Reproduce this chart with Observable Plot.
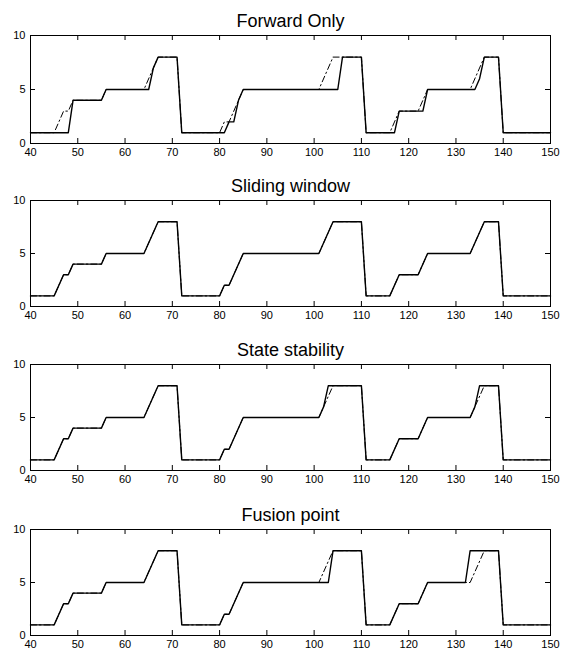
<!DOCTYPE html>
<html>
<head>
<meta charset="utf-8">
<script src="https://cdn.jsdelivr.net/npm/d3@7"></script>
<script src="https://cdn.jsdelivr.net/npm/@observablehq/plot@0.6"></script>
<style>
  html, body { margin: 0; padding: 0; background: #fff; }
  #chart svg { display: block; }
</style>
</head>
<body>
<div id="chart"></div>
<script>
// Tick labels
const xTicks = [40, 50, 60, 70, 80, 90, 100, 110, 120, 130, 140, 150];
const yTicks = [0, 5, 10];

// Panel titles
const titles = ["Forward Only", "Sliding window", "State stability", "Fusion point"];

// Reference (dash-dot) series, same in every panel
const truthX = [40,45,47,48,49,55,56,64,67,71,72,80,81,82,85,101,104,110,111,116,118,122,124,133,136,139,140,150];
const truthY = [1,1,3,3,4,4,5,5,8,8,1,1,2,2,5,5,8,8,1,1,3,3,5,5,8,8,1,1];

// Estimated (solid) series, one per panel
const forwardX = [40,48,49,55,56,65,66,67,71,72,81,82,83,84,85,105,106,110,111,117,118,123,124,134,135,136,139,140,150];
const forwardY = [1,1,4,4,5,5,7,8,8,1,1,2,2,4,5,5,8,8,1,1,3,3,5,5,6,8,8,1,1];

const slidingX = [40,45,47,48,49,55,56,64,67,71,72,80,81,82,85,101,104,110,111,116,118,122,124,133,136,139,140,150];
const slidingY = [1,1,3,3,4,4,5,5,8,8,1,1,2,2,5,5,8,8,1,1,3,3,5,5,8,8,1,1];

const stateX = [40,45,47,48,49,55,56,64,67,71,72,80,81,82,85,101,102,103,110,111,116,118,122,124,133,134,135,139,140,150];
const stateY = [1,1,3,3,4,4,5,5,8,8,1,1,2,2,5,5,6,8,8,1,1,3,3,5,5,6,8,8,1,1];

const fusionX = [40,45,47,48,49,55,56,64,67,71,72,80,81,82,85,103,104,110,111,116,118,122,124,132,133,139,140,150];
const fusionY = [1,1,3,3,4,4,5,5,8,8,1,1,2,2,5,5,8,8,1,1,3,3,5,5,8,8,1,1];

const zip = (xs, ys) => xs.map((x, i) => ({x, y: ys[i]}));
const truth = zip(truthX, truthY);
const estimates = [
  zip(forwardX, forwardY),
  zip(slidingX, slidingY),
  zip(stateX, stateY),
  zip(fusionX, fusionY)
];

const W = 572, ML = 30, MR = 22, MT = 35;
const layout = [
  {h: 165, inner: 108},
  {h: 164, inner: 106},
  {h: 165, inner: 106},
  {h: 157, inner: 106}
];
const innerW = W - ML - MR;
const tickLen = 5;

const container = document.getElementById("chart");
titles.forEach((title, i) => {
  const {h, inner} = layout[i];
  const chart = Plot.plot({
    width: W,
    height: h,
    marginLeft: ML,
    marginRight: MR,
    marginTop: MT,
    marginBottom: h - MT - inner,
    style: {fontFamily: "'Liberation Sans', Arial, Helvetica, sans-serif", color: "#000", background: "#fff", fontSize: "11px"},
    x: {domain: [40, 150]},
    y: {domain: [0, 10]},
    marks: [
      Plot.axisX({ticks: xTicks, tickSize: 0, tickPadding: 5, label: null, fontSize: 11}),
      Plot.axisY({ticks: yTicks, tickSize: 0, tickPadding: 5, label: null, fontSize: 11}),
      // inward ticks on all four sides
      Plot.tickX(xTicks, {x: d => d, insetTop: inner - tickLen, stroke: "#000"}),
      Plot.tickX(xTicks, {x: d => d, insetBottom: inner - tickLen, stroke: "#000"}),
      Plot.tickY(yTicks, {y: d => d, insetRight: innerW - tickLen, stroke: "#000"}),
      Plot.tickY(yTicks, {y: d => d, insetLeft: innerW - tickLen, stroke: "#000"}),
      Plot.line(truth, {x: "x", y: "y", stroke: "#000", strokeWidth: 1, strokeDasharray: "6,3,1.5,3"}),
      Plot.line(estimates[i], {x: "x", y: "y", stroke: "#000", strokeWidth: 1.4}),
      Plot.frame({stroke: "#000", strokeWidth: 1}),
      Plot.text([title], {text: d => d, frameAnchor: "top", lineAnchor: "bottom", dy: -9, fontSize: 18, fill: "#000"})
    ]
  });
  container.appendChild(chart);
});
</script>
</body>
</html>
